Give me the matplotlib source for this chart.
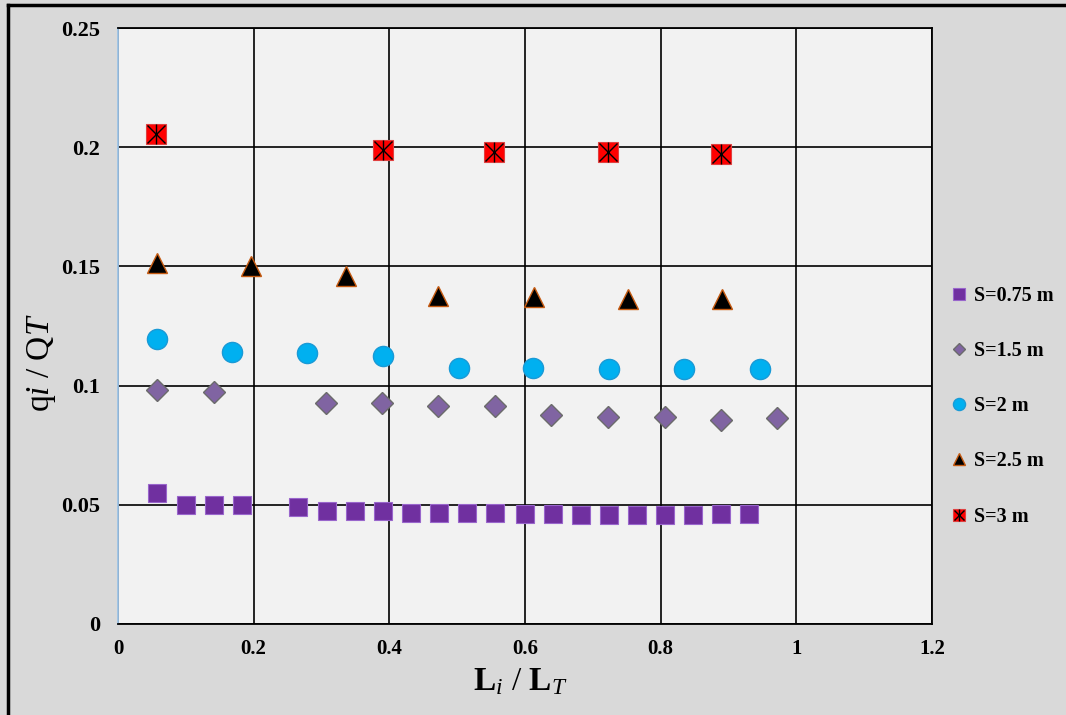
import matplotlib
matplotlib.use("Agg")
import matplotlib.pyplot as plt
from matplotlib.lines import Line2D

plt.rcParams['font.family'] = ['Liberation Serif', 'DejaVu Serif']
plt.rcParams['mathtext.fontset'] = 'custom'
plt.rcParams['mathtext.rm'] = 'Liberation Serif'
plt.rcParams['mathtext.it'] = 'Liberation Serif:italic'
plt.rcParams['mathtext.bf'] = 'Liberation Serif:bold'

# S = 0.75 m
x_075 = [0.057, 0.100, 0.141, 0.183, 0.266, 0.308, 0.349, 0.391, 0.432, 0.473,
         0.514, 0.556, 0.600, 0.641, 0.683, 0.724, 0.765, 0.806, 0.848, 0.889, 0.930]
y_075 = [0.0548, 0.0499, 0.0499, 0.0499, 0.0492, 0.0474, 0.0474, 0.0474, 0.0464, 0.0464,
         0.0464, 0.0464, 0.0462, 0.0462, 0.0458, 0.0458, 0.0458, 0.0458, 0.0458, 0.0462, 0.0462]

# S = 1.5 m
x_15 = [0.057, 0.1415, 0.307, 0.389, 0.472, 0.556, 0.638, 0.723, 0.806, 0.889, 0.972]
y_15 = [0.0982, 0.0975, 0.0926, 0.0928, 0.0914, 0.0914, 0.0877, 0.0867, 0.0867, 0.0856, 0.0863]

# S = 2 m
x_2 = [0.057, 0.168, 0.279, 0.390, 0.502, 0.612, 0.724, 0.835, 0.946]
y_2 = [0.1195, 0.1142, 0.1138, 0.1124, 0.1075, 0.1075, 0.1070, 0.1070, 0.1070]

# S = 2.5 m
x_25 = [0.057, 0.196, 0.336, 0.472, 0.613, 0.752, 0.890]
y_25 = [0.1513, 0.1503, 0.1460, 0.1376, 0.1370, 0.1362, 0.1362]

# S = 3 m
x_3 = [0.056, 0.390, 0.555, 0.723, 0.889]
y_3 = [0.2054, 0.1988, 0.1981, 0.1981, 0.1971]

x_ticks = [0, 0.2, 0.4, 0.6, 0.8, 1.0, 1.2]
x_tick_labels = ['0', '0.2', '0.4', '0.6', '0.8', '1', '1.2']
y_ticks = [0, 0.05, 0.1, 0.15, 0.2, 0.25]
y_tick_labels = ['0', '0.05', '0.1', '0.15', '0.2', '0.25']


fig = plt.figure(figsize=(10.66, 7.15), dpi=100, facecolor='#D9D9D9')
ax = fig.add_axes([0.1107, 0.1273, 0.7636, 0.8335])
ax.set_facecolor('#F2F2F2')

ax.set_xlim(0, 1.2)
ax.set_ylim(0, 0.25)
ax.set_xticks(x_ticks)
ax.set_xticklabels(x_tick_labels)
ax.set_yticks(y_ticks)
ax.set_yticklabels(y_tick_labels)
ax.tick_params(axis='x', length=0, labelsize=15, pad=11)
ax.tick_params(axis='y', length=0, labelsize=16, pad=13)
for lab in ax.get_yticklabels() + ax.get_xticklabels():
    lab.set_fontweight('bold')

ax.grid(True, color='black', linewidth=1.2)
ax.set_axisbelow(True)
for side in ['top', 'right', 'bottom']:
    ax.spines[side].set_color('black')
    ax.spines[side].set_linewidth(1.3)
ax.spines['left'].set_color('#9DC3E6')
ax.spines['left'].set_linewidth(1.3)

h075, = ax.plot(x_075, y_075, 's', ms=13.5, color='#7030A0', mec='#9966CC', mew=0.8)
h15, = ax.plot(x_15, y_15, 'D', ms=11, color='#8064A2', mec='#6B6B6B', mew=1.0)
h2, = ax.plot(x_2, y_2, 'o', ms=14.5, color='#00B0F0', mec='#1A9AD6', mew=1.0)
h25, = ax.plot(x_25, y_25, '^', ms=14, color='black', mec='#C55A11', mew=1.0)
h3a, = ax.plot(x_3, y_3, 's', ms=14, color='#FF0000', mec='#E04040', mew=0.8)
h3b, = ax.plot(x_3, y_3, 'x', ms=13, color='black', mew=1.0)
h3c, = ax.plot(x_3, y_3, '|', ms=14, color='black', mew=1.0)

# axis titles
fig.text(520 / 1066, 1 - 682 / 715,
         r'$\mathbf{L}_{\mathit{i}}$ / $\mathbf{L}_{\mathit{T}}$',
         fontsize=24, ha='center', va='center')
fig.text(41 / 1066, 1 - 363 / 715, r'q$\mathit{i}$ / Q$\mathit{T}$',
         fontsize=24, rotation=90, ha='center', va='center')

leg = fig.legend([h075, h15, h2, h25, (h3a, h3b, h3c)],
                 ['S=0.75 m', 'S=1.5 m', 'S=2 m', 'S=2.5 m', 'S=3 m'],
                 loc='center left', bbox_to_anchor=(0.883, 0.432),
                 frameon=False, markerscale=0.6, handlelength=1.0,
                 handletextpad=0.2, labelspacing=1.75, borderaxespad=0,
                 prop={'family': 'Liberation Serif', 'weight': 'bold', 'size': 14.5})

# outer border (left and top visible in reference)
fig.add_artist(Line2D([8 / 1066, 8 / 1066], [0, 1 - 5 / 715], color='black', lw=2.5,
                      transform=fig.transFigure))
fig.add_artist(Line2D([8 / 1066, 1], [1 - 5 / 715, 1 - 5 / 715], color='black', lw=2.5,
                      transform=fig.transFigure))

fig.savefig('out.png', dpi=100, facecolor=fig.get_facecolor())
